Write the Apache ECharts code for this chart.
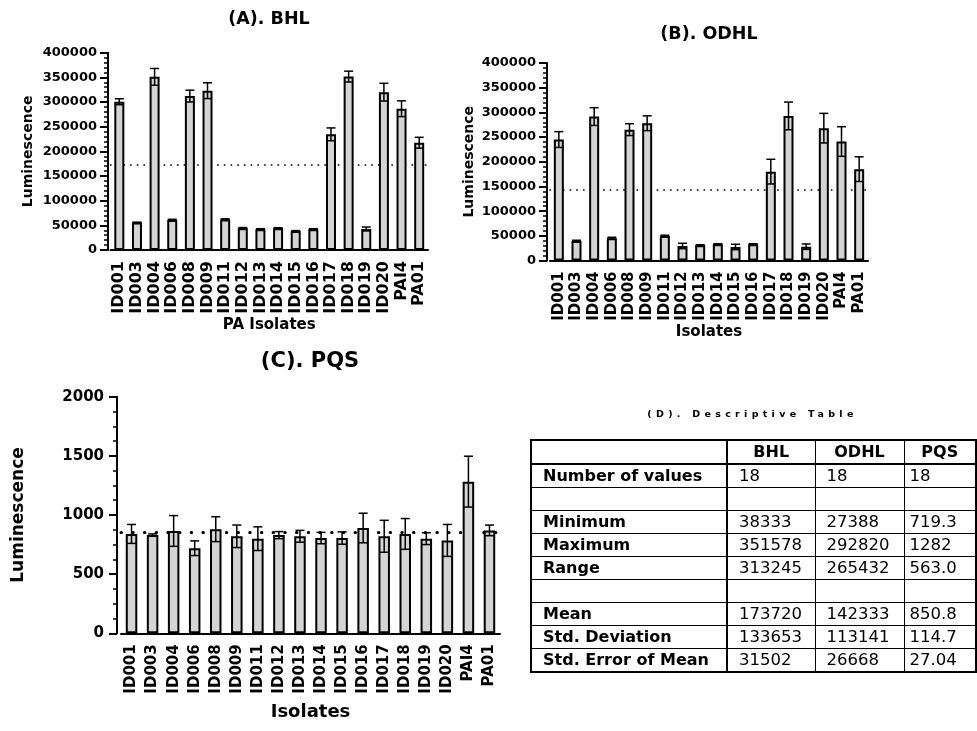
<!DOCTYPE html>
<html>
<head>
<meta charset="utf-8">
<script src="https://cdn.jsdelivr.net/npm/echarts@6/dist/echarts.min.js"></script>
<style>
  html, body { margin: 0; padding: 0; background: #fff; }
  #wrap { position: relative; width: 977px; height: 731px; }
  #chart { position: absolute; left: 0; top: 0; width: 977px; height: 731px; }
  #tableTitle {
    position: absolute; left: 530px; width: 445px; top: 408px; text-align: center;
    font: bold 9.5px "DejaVu Sans", sans-serif; letter-spacing: 4.3px; color: #000;
  }
  #stats {
    position: absolute; left: 530px; top: 439px; border-collapse: collapse;
    border: 2px solid #000; font-family: "DejaVu Sans", sans-serif; color: #000;
    table-layout: fixed;
  }
  #stats td, #stats th { height: 22px; padding: 0; border: 1px solid #000; white-space: nowrap; line-height: 20px; }
  #stats th { font-weight: bold; font-size: 16px; text-align: center; border-bottom: 2px solid #000; }
  #stats td.lab { font-weight: bold; font-size: 16px; padding-left: 11px; border-right: 2px solid #000; }
  #stats td.num { font-size: 16.5px; padding-left: 11px; }
  #stats td.num.last { padding-left: 5px; }
  #stats th.lab { border-right: 2px solid #000; }
</style>
</head>
<body>
<div id="wrap">
  <div id="chart"></div>
  <div id="tableTitle">(D). Descriptive Table</div>
  <table id="stats"></table>
</div>
<script>
// Isolates tested in every assay
const isolates = ['ID001','ID003','ID004','ID006','ID008','ID009','ID011','ID012','ID013',
                  'ID014','ID015','ID016','ID017','ID018','ID019','ID020','PAI4','PA01'];

// (A) BHL luminescence: mean and error
const bhlValues = [300600, 55500, 351000, 61000, 312000, 323000, 62000, 44000, 42000,
                   44000, 38333, 42000, 234500, 351578, 42600, 320000, 286400, 217500];
const bhlErrors = [6000, 900, 17000, 1200, 12000, 16000, 1200, 1500, 1200,
                   1200, 1000, 1200, 13000, 11000, 4000, 18000, 16000, 11000];

// (B) ODHL luminescence: mean and error
const odhlValues = [245000, 39500, 291500, 45000, 265000, 278000, 49700, 29400, 30800,
                    32800, 27388, 32800, 180000, 292820, 28000, 268000, 241000, 185000];
const odhlErrors = [16000, 1500, 18000, 2000, 12000, 15000, 1500, 5500, 1200,
                    1200, 5500, 1200, 25000, 28000, 5500, 30000, 30000, 25000];

// (C) PQS luminescence: mean and error
const pqsValues = [840, 830, 865, 719.3, 880, 820, 800, 830, 820,
                   805, 805, 890, 820, 840, 800, 785, 1282, 870];
const pqsErrors = [80, 10, 130, 62, 105, 95, 100, 30, 50,
                   48, 52, 125, 135, 130, 50, 135, 215, 45];

// (D) descriptive statistics
const statHeaders = ['BHL', 'ODHL', 'PQS'];
const statLabels = ['Number of values', '', 'Minimum', 'Maximum', 'Range', '', 'Mean', 'Std. Deviation', 'Std. Error of Mean'];
const bhlStats  = ['18', '', '38333', '351578', '313245', '', '173720', '133653', '31502'];
const odhlStats = ['18', '', '27388', '292820', '265432', '', '142333', '113141', '26668'];
const pqsStats  = ['18', '', '719.3', '1282', '563.0', '', '850.8', '114.7', '27.04'];

// Mean lines drawn across each panel
const bhlMean = 173720, odhlMean = 142333, pqsMean = 850.8;

const FONT = 'DejaVu Sans';

function errorData(values, errors) {
  return values.map((v, i) => [i, v, errors[i]]);
}

function errorSeries(idx, values, errors, capHalf) {
  return {
    type: 'custom', xAxisIndex: idx, yAxisIndex: idx, z: 4,
    data: errorData(values, errors),
    encode: { x: 0, y: 1 },
    renderItem: function (params, api) {
      const x = api.value(0), v = api.value(1), e = api.value(2);
      const top = api.coord([x, v + e]);
      const bot = api.coord([x, v - e]);
      const st = { stroke: '#000', lineWidth: 1.5 };
      return {
        type: 'group',
        children: [
          { type: 'line', shape: { x1: top[0], y1: top[1], x2: bot[0], y2: bot[1] }, style: st },
          { type: 'line', shape: { x1: top[0] - capHalf, y1: top[1], x2: top[0] + capHalf, y2: top[1] }, style: st },
          { type: 'line', shape: { x1: bot[0] - capHalf, y1: bot[1], x2: bot[0] + capHalf, y2: bot[1] }, style: st }
        ]
      };
    }
  };
}

function barSeries(idx, values, width, mean, dot) {
  return {
    type: 'bar', xAxisIndex: idx, yAxisIndex: idx, z: 3,
    data: values, barWidth: width,
    itemStyle: { color: '#d4d4d4', borderColor: '#000', borderWidth: 2 },
    markLine: {
      z: 1, silent: true, symbol: 'none', label: { show: false },
      lineStyle: { color: '#000', width: dot.w, type: dot.dash, cap: 'round' },
      data: [{ yAxis: mean }]
    }
  };
}

function xAxisDef(idx, name, labelSize, nameSize, nameGap) {
  return {
    type: 'category', gridIndex: idx, data: isolates,
    name: name, nameLocation: 'middle', nameGap: nameGap,
    nameTextStyle: { fontFamily: FONT, fontWeight: 'bold', fontSize: nameSize, color: '#000' },
    axisLine: { lineStyle: { color: '#000', width: 2 } },
    axisTick: { alignWithLabel: true, length: 6, lineStyle: { color: '#000', width: 2 } },
    axisLabel: { rotate: 90, interval: 0, margin: 11, fontFamily: FONT, fontWeight: 'bold', fontSize: labelSize, color: '#000' }
  };
}

function yAxisDef(idx, max, interval, minorSplit, offset, labelSize, nameSize, nameGap, margin) {
  return {
    type: 'value', gridIndex: idx, min: 0, max: max, interval: interval, offset: offset,
    name: 'Luminescence', nameLocation: 'middle', nameGap: nameGap,
    nameTextStyle: { fontFamily: FONT, fontWeight: 'bold', fontSize: nameSize, color: '#000' },
    axisLine: { show: true, lineStyle: { color: '#000', width: 2 } },
    axisTick: { show: true, length: 8, lineStyle: { color: '#000', width: 2 } },
    minorTick: { show: true, splitNumber: minorSplit, length: 4, lineStyle: { color: '#000', width: 1.5 } },
    splitLine: { show: false },
    axisLabel: { margin: margin, fontFamily: FONT, fontWeight: 'bold', fontSize: labelSize, color: '#000',
                 formatter: v => String(v) }
  };
}

const chart = echarts.init(document.getElementById('chart'), null, { renderer: 'canvas' });

const titleStyle = (size) => ({ fontFamily: FONT, fontWeight: 'bold', fontSize: size, color: '#000' });

chart.setOption({
  backgroundColor: '#fff',
  animation: false,
  title: [
    { text: '(A). BHL', left: 269, top: 10, textAlign: 'center', padding: 0, textStyle: titleStyle(17.5) },
    { text: '(B). ODHL', left: 709, top: 25, textAlign: 'center', padding: 0, textStyle: titleStyle(17.5) },
    { text: '(C). PQS', left: 310, top: 351, textAlign: 'center', padding: 0, textStyle: titleStyle(21) }
  ],
  grid: [
    { left: 110.5, top: 52.7, width: 317.5, height: 197.3, outerBoundsMode: 'none' },
    { left: 550, top: 63, width: 318, height: 197.5, outerBoundsMode: 'none' },
    { left: 121, top: 396.7, width: 379, height: 236.6, outerBoundsMode: 'none' }
  ],
  xAxis: [
    xAxisDef(0, 'PA Isolates', 16, 15, 59),
    xAxisDef(1, 'Isolates', 15, 15, 59),
    xAxisDef(2, 'Isolates', 15, 18, 70)
  ],
  yAxis: [
    yAxisDef(0, 400000, 50000, 5, 2.5, 13, 14, 73, 11),
    yAxisDef(1, 400000, 50000, 5, 3, 13, 14, 71, 11),
    yAxisDef(2, 2000, 500, 4, 4, 15, 17, 90, 13)
  ],
  series: [
    barSeries(0, bhlValues, 10, bhlMean, { w: 1.6, dash: [0.5, 6.2] }),
    errorSeries(0, bhlValues, bhlErrors, 4.5),
    barSeries(1, odhlValues, 10, odhlMean, { w: 1.6, dash: [0.5, 6.2] }),
    errorSeries(1, odhlValues, odhlErrors, 4.5),
    barSeries(2, pqsValues, 11.5, pqsMean, { w: 3, dash: [0.5, 11.2] }),
    errorSeries(2, pqsValues, pqsErrors, 4.5)
  ]
});

// Descriptive statistics table
(function buildTable() {
  const table = document.getElementById('stats');
  const widths = [196, 88, 89, 72];
  const cg = document.createElement('colgroup');
  widths.forEach(w => { const c = document.createElement('col'); c.style.width = w + 'px'; cg.appendChild(c); });
  table.appendChild(cg);
  const head = document.createElement('tr');
  const corner = document.createElement('th'); corner.className = 'lab'; head.appendChild(corner);
  statHeaders.forEach(h => { const th = document.createElement('th'); th.textContent = h; head.appendChild(th); });
  table.appendChild(head);
  const cols = [bhlStats, odhlStats, pqsStats];
  statLabels.forEach((lab, r) => {
    const tr = document.createElement('tr');
    const td = document.createElement('td'); td.className = 'lab'; td.textContent = lab; tr.appendChild(td);
    cols.forEach((col, c) => {
      const cell = document.createElement('td');
      cell.className = 'num' + (c === 2 ? ' last' : '');
      cell.textContent = col[r];
      tr.appendChild(cell);
    });
    table.appendChild(tr);
  });
})();
</script>
</body>
</html>
